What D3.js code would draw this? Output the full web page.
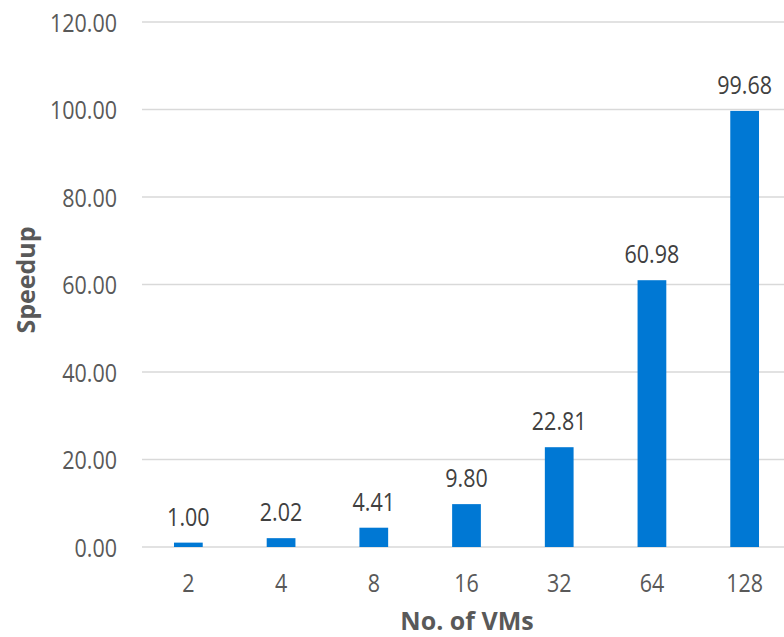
<!DOCTYPE html>
<html>
<head>
<meta charset="utf-8">
<script src="https://cdn.jsdelivr.net/npm/d3@7"></script>
<style>
  html, body { margin: 0; padding: 0; background: #fff; }
  svg { display: block; font-family: "Open Sans", "Noto Sans", sans-serif; }
</style>
</head>
<body>
<svg id="chart" width="784" height="637"></svg>
<script>
// Speedup measured for each cluster size
const vmCounts = ["2", "4", "8", "16", "32", "64", "128"];
const speedup = [1.00, 2.02, 4.41, 9.80, 22.81, 60.98, 99.68];
const yTicks = [0, 20, 40, 60, 80, 100, 120];

const svg = d3.select("#chart");
const plot = { left: 142, right: 791, top: 22, bottom: 547 };

const x = d3.scaleBand()
  .domain(vmCounts)
  .range([plot.left, plot.right])
  .paddingInner(0.69)
  .paddingOuter(0.345);

const y = d3.scaleLinear()
  .domain([0, 120])
  .range([plot.bottom, plot.top]);

const fmt = d3.format(".2f");

// Places a centred text; `stretch` makes the glyphs a little taller than normal
function label(g, tx, ty, txt, opts) {
  const s = opts.stretch || 1;
  return g.append("text")
    .attr("transform", `translate(${tx},${ty})` + (opts.rotate ? ` rotate(${opts.rotate})` : "") + ` scale(1,${s})`)
    .attr("text-anchor", opts.anchor || "middle")
    .attr("dominant-baseline", "central")
    .attr("font-size", opts.size)
    .attr("font-weight", opts.weight || "normal")
    .attr("fill", opts.color)
    .text(txt);
}

// Horizontal gridlines
const gGrid = svg.append("g");
gGrid.selectAll("line")
  .data(yTicks)
  .join("line")
  .attr("x1", plot.left)
  .attr("x2", plot.right)
  .attr("y1", d => y(d))
  .attr("y2", d => y(d))
  .attr("stroke", "#d9d9d9")
  .attr("stroke-width", 1.3);

const tickText = { size: 21.5, color: "#595959", stretch: 1.2 };

// Y tick labels
const gY = svg.append("g");
yTicks.forEach(t => label(gY, 117, y(t), fmt(t), { ...tickText, anchor: "end" }));

// Bars
svg.append("g")
  .selectAll("rect")
  .data(speedup)
  .join("rect")
  .attr("x", (d, i) => x(vmCounts[i]))
  .attr("width", x.bandwidth())
  .attr("y", d => y(d))
  .attr("height", d => y(0) - y(d))
  .attr("fill", "#0078d4");

// Value labels above bars
const gVal = svg.append("g");
speedup.forEach((v, i) => {
  label(gVal, x(vmCounts[i]) + x.bandwidth() / 2, y(v) - 26.5, fmt(v), { ...tickText, color: "#404040" });
});

// X tick labels
const gX = svg.append("g");
vmCounts.forEach(c => label(gX, x(c) + x.bandwidth() / 2, 582, c, tickText));

// Axis titles
label(svg, 467, 619.5, "No. of VMs", { size: 25, weight: "bold", color: "#595959" });
label(svg, 25, 280, "Speedup", { size: 25, weight: "bold", color: "#595959", rotate: -90 });
</script>
</body>
</html>
